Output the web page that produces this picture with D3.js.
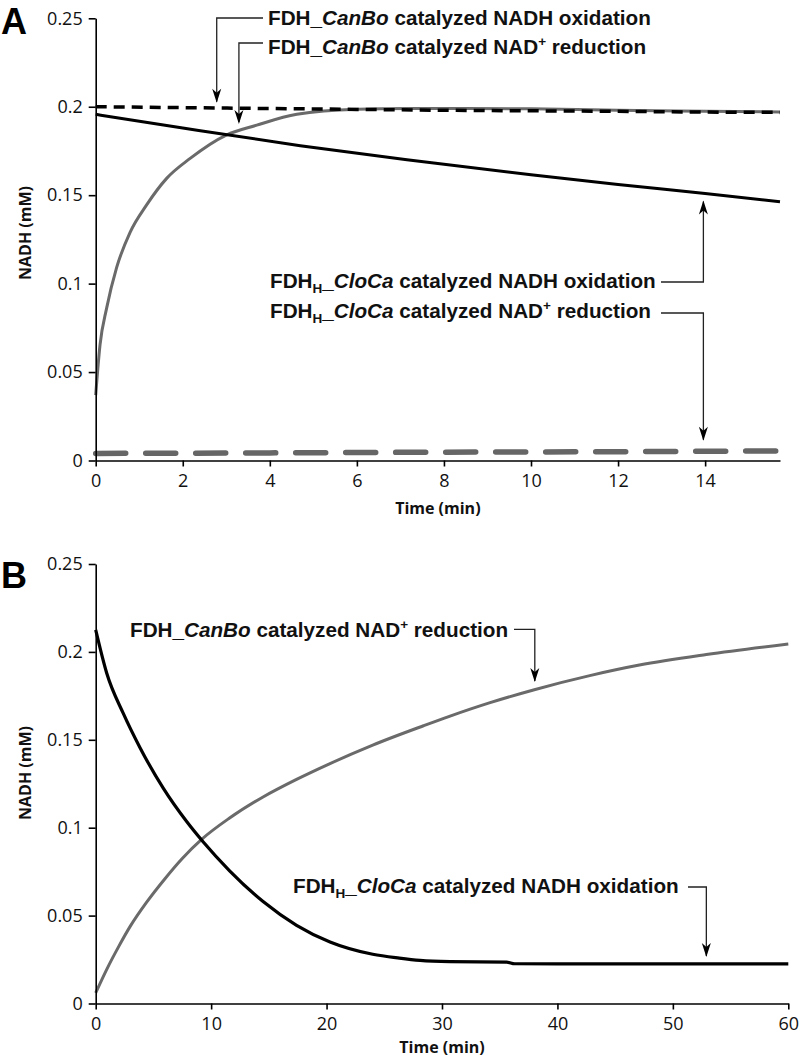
<!DOCTYPE html>
<html><head><meta charset="utf-8">
<script src="https://cdn.jsdelivr.net/npm/d3@7"></script>
<style>
body{margin:0;background:#fff;}
svg{display:block;}
.tick text{font-family:"Open Sans",sans-serif;font-size:18px;fill:#111;}
.ann{font-family:"Liberation Sans",Arial,sans-serif;font-weight:bold;font-size:20.7px;fill:#111;}
.ttl{font-family:"Open Sans",sans-serif;font-weight:bold;font-size:16px;fill:#111;}
</style></head>
<body>
<script>
// ---------- Data ----------
// Panel A (time in min, NADH in mM)
const aYTicks = [0, 0.05, 0.1, 0.15, 0.2, 0.25];
const aYTickLabels = ["0", "0.05", "0.1", "0.15", "0.2", "0.25"];
const aXTicks = [0, 2, 4, 6, 8, 10, 12, 14];
const aXMax = 15.72;

const aCanBoOxT = [0, 2, 4, 6, 8, 10, 12, 14, 15.72];
const aCanBoOxV = [0.2, 0.1995, 0.199, 0.1985, 0.198, 0.1977, 0.1974, 0.197, 0.1968];

const aCanBoRedT = [0, 0.1, 0.25, 0.48, 0.79, 1.17, 1.63, 2.17, 3.0, 3.7, 4.62, 6.0, 7.15, 8.5, 10, 12, 14, 15.72];
const aCanBoRedV = [0.037, 0.0655, 0.086, 0.109, 0.129, 0.1445, 0.1595, 0.1708, 0.184, 0.1896, 0.1957, 0.1986, 0.199, 0.199, 0.1988, 0.198, 0.1975, 0.197];

const aCloCaOxT = [0, 2, 4.7, 7.15, 10, 12, 14, 15.72];
const aCloCaOxV = [0.1957, 0.188, 0.178, 0.170, 0.1615, 0.156, 0.151, 0.1463];

const aCloCaRedT = [0, 4, 8, 12, 15.72];
const aCloCaRedV = [0.004, 0.0043, 0.0047, 0.005, 0.0054];

// Panel B
const bYTicks = [0, 0.05, 0.1, 0.15, 0.2, 0.25];
const bYTickLabels = ["0", "0.05", "0.1", "0.15", "0.2", "0.25"];
const bXTicks = [0, 10, 20, 30, 40, 50, 60];
const bXMax = 60;

const bCloCaOxT = [0, 0.95, 2.39, 3.84, 5.85, 7.88, 9.3, 11.6, 14.5, 17.4, 20.3, 24, 26.3, 28.1, 30.7, 35.6, 36.3, 40, 50, 60];
const bCloCaOxV = [0.2125, 0.188, 0.165, 0.1455, 0.1225, 0.1035, 0.092, 0.0755, 0.058, 0.0445, 0.035, 0.028, 0.0258, 0.0245, 0.0238, 0.0235, 0.0226, 0.0225, 0.0225, 0.0225];

const bCanBoRedT = [0, 1, 2, 3, 4.4, 6, 7.5, 9.2, 11.6, 14.5, 17.4, 20.3, 24, 28.4, 30.7, 34.1, 38, 42.8, 47.1, 52.9, 60];
const bCanBoRedV = [0.006, 0.02, 0.0325, 0.044, 0.0575, 0.071, 0.0825, 0.0935, 0.1055, 0.1175, 0.1275, 0.1365, 0.147, 0.158, 0.1635, 0.171, 0.1785, 0.1865, 0.1925, 0.1985, 0.2045];

// ---------- Drawing ----------
const svg = d3.select("body").append("svg").attr("width", 800).attr("height", 1064);

function zip(t, v){ return t.map((d,i)=>[d, v[i]]); }

function panel(cfg){
  const g = svg.append("g");
  const x = d3.scaleLinear().domain([0, cfg.xMax]).range(cfg.xr);
  const y = d3.scaleLinear().domain([0, 0.25]).range(cfg.yr);
  const line = d3.line().x(d=>x(d[0])).y(d=>y(d[1])).curve(d3.curveMonotoneX);

  cfg.series.forEach(s=>{
    g.append("path").datum(zip(s.t, s.v))
      .attr("d", line).attr("fill","none")
      .attr("stroke", s.color).attr("stroke-width", s.w)
      .attr("stroke-dasharray", s.dash || null)
      .attr("stroke-linecap", s.cap || "butt");
  });

  const yAxis = d3.axisLeft(y).tickValues(cfg.yTicks)
    .tickFormat((d,i)=>cfg.yLabels[i]).tickSizeInner(7).tickSizeOuter(0).tickPadding(6);
  const ga = g.append("g").attr("transform",`translate(${cfg.xr[0]},0)`).call(yAxis);
  const xAxis = d3.axisBottom(x).tickValues(cfg.xTicks).tickSizeInner(6).tickSizeOuter(0).tickPadding(8);
  const gx = g.append("g").attr("transform",`translate(0,${cfg.yr[0]})`).call(xAxis);
  [ga, gx].forEach(a=>{
    a.select(".domain").attr("stroke","#000").attr("stroke-width",1.6);
    a.selectAll(".tick line").attr("stroke","#000").attr("stroke-width",1.6);
  });

  g.append("text").attr("class","ttl").attr("text-anchor","middle")
    .attr("x", (cfg.xr[0]+cfg.xr[1])/2).attr("y", cfg.xTitleY).text("Time (min)");
  g.append("text").attr("class","ttl").attr("text-anchor","middle")
    .attr("transform",`translate(${cfg.yTitleX},${cfg.yTitleY}) rotate(-90)`).text("NADH (mM)");
  g.append("text").attr("x",1).attr("y",cfg.letterY)
    .attr("font-family","Liberation Sans, Arial, sans-serif").attr("font-weight","bold")
    .attr("font-size",36).attr("fill","#000").text(cfg.letter);
  return {g, x, y};
}

function label(g, xPos, yPos, parts){
  const t = g.append("text").attr("class","ann").attr("x",xPos).attr("y",yPos);
  parts.forEach(p=>{
    const ts = t.append("tspan").text(p.s);
    if(p.i) ts.attr("font-style","italic");
    if(p.sub) ts.attr("font-size",13.5).attr("dy",5);
    if(p.after) ts.attr("dy",-5);
    if(p.sup) ts.attr("font-size",13.5).attr("dy",-8);
    if(p.afterSup) ts.attr("dy",8);
  });
}
function arrowHead(g, tx, ty, dir){
  // dir: 1 pointing down, -1 pointing up
  const L=14, Wd=4.5, n=10;
  g.append("path").attr("d",`M${tx},${ty} L${tx-Wd},${ty-dir*L} L${tx},${ty-dir*n} L${tx+Wd},${ty-dir*L} Z`)
    .attr("fill","#000");
}
function leader(g, pts){
  g.append("path").attr("d", d3.line()(pts)).attr("fill","none").attr("stroke","#222").attr("stroke-width",1.3);
}

// Panel A
const A = panel({
  xMax:aXMax, xr:[95.7,780], yr:[460.5,18.3], yTicks:aYTicks, yLabels:aYTickLabels, xTicks:aXTicks,
  xTitleY:514, yTitleX:31, yTitleY:233, letter:"A", letterY:34,
  series:[
    {t:aCloCaRedT, v:aCloCaRedV, color:"#666", w:5.5, dash:"30,20", cap:"round"},
    {t:aCanBoRedT, v:aCanBoRedV, color:"#6a6a6a", w:3},
    {t:aCloCaOxT, v:aCloCaOxV, color:"#000", w:3},
    {t:aCanBoOxT, v:aCanBoOxV, color:"#000", w:3.5, dash:"11,7"}
  ]
});
{
  const g=A.g, x=A.x, y=A.y;
  const x1=x(2.78), x2=x(3.29);
  label(g, 268, 25, [{s:"FDH_"},{s:"CanBo",i:1},{s:" catalyzed NADH oxidation"}]);
  leader(g, [[263,18],[x1,18],[x1,y(0.2)-5]]); arrowHead(g, x1, y(0.2)-4, 1);
  label(g, 268, 54, [{s:"FDH_"},{s:"CanBo",i:1},{s:" catalyzed NAD"},{s:"+",sup:1},{s:" reduction",afterSup:1}]);
  leader(g, [[263,43],[x2,43],[x2,y(0.1885)-5]]); arrowHead(g, x2, y(0.1885)-3, 1);
  const x3=x(13.96);
  label(g, 270, 288, [{s:"FDH"},{s:"H",sub:1},{s:"_",after:1},{s:"CloCa",i:1},{s:" catalyzed NADH oxidation"}]);
  leader(g, [[661,282],[x3,282],[x3,y(0.151)+8]]); arrowHead(g, x3, y(0.151)+7, -1);
  label(g, 270, 318, [{s:"FDH"},{s:"H",sub:1},{s:"_",after:1},{s:"CloCa",i:1},{s:" catalyzed NAD"},{s:"+",sup:1},{s:" reduction",afterSup:1}]);
  leader(g, [[661,313],[x3,313],[x3,y(0.005)-12]]); arrowHead(g, x3, y(0.005)-11, 1);
}

// Panel B
const B = panel({
  xMax:bXMax, xr:[95.7,788.3], yr:[1003.5,564], yTicks:bYTicks, yLabels:bYTickLabels, xTicks:bXTicks,
  xTitleY:1053, yTitleX:31, yTitleY:773, letter:"B", letterY:588,
  series:[
    {t:bCanBoRedT, v:bCanBoRedV, color:"#6a6a6a", w:3},
    {t:bCloCaOxT, v:bCloCaOxV, color:"#000", w:3.2}
  ]
});
{
  const g=B.g, x=B.x, y=B.y;
  const x1=x(38.04);
  label(g, 130, 637, [{s:"FDH_"},{s:"CanBo",i:1},{s:" catalyzed NAD"},{s:"+",sup:1},{s:" reduction",afterSup:1}]);
  leader(g, [[514,629.3],[x1,629.3],[x1,y(0.18)-6]]); arrowHead(g, x1, y(0.18)-5, 1);
  const x2=x(52.9);
  label(g, 293, 893, [{s:"FDH"},{s:"H",sub:1},{s:"_",after:1},{s:"CloCa",i:1},{s:" catalyzed NADH oxidation"}]);
  leader(g, [[688,887],[x2,887],[x2,y(0.0225)-8]]); arrowHead(g, x2, y(0.0225)-7, 1);
}
</script>
</body></html>
